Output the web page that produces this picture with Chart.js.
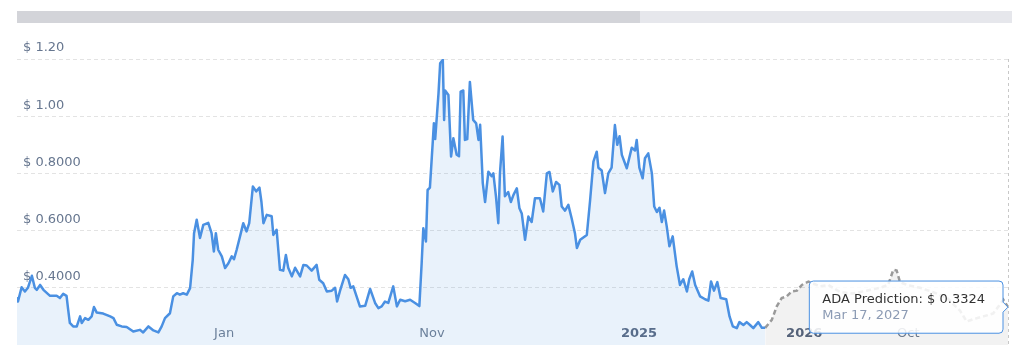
<!DOCTYPE html>
<html>
<head>
<meta charset="utf-8">
<script src="https://cdn.jsdelivr.net/npm/chart.js@4/dist/chart.umd.min.js"></script>
<style>
  html, body { margin: 0; padding: 0; background: #ffffff; }
  #wrap { width: 1024px; height: 353px; position: relative; }
</style>
</head>
<body>
<div id="wrap"><canvas id="c" width="1024" height="353"></canvas></div>
<script>
// ---- data (time index along an ordinal axis, price in USD) ----
const histT = [0,0.3,1.4,2.4,3.3,4.5,5.4,6.0,7.0,8.0,10.0,12.0,13.0,14.0,15.0,15.5,16.0,17.0,18.1,19.1,19.6,20.6,21.6,22.6,23.3,24.1,26.1,28.2,29.2,30.2,31.7,33.2,35.2,37.2,38.2,39.8,41.3,42.8,43.8,44.8,46.3,47.3,48.4,49.3,50.3,51.4,52.4,53.2,53.6,54.4,55.4,56.4,57.9,58.9,59.6,60.2,60.9,62.0,63.0,64.0,65.0,65.7,66.5,67.5,68.5,69.5,70.3,71.4,72.4,73.4,74.0,74.6,75.6,77.1,77.6,78.6,79.6,80.6,81.4,82.1,83.2,84.2,85.7,86.7,87.7,89.2,90.7,91.5,92.7,93.8,95.3,96.3,96.9,97.8,99.3,100.3,101.0,101.8,102.8,103.8,105.4,106.9,108.4,109.4,110.4,111.4,112.4,113.9,115.0,116.0,117.5,119.0,120.5,121.8,122.5,123.0,123.8,124.3,125.0,125.9,126.2,126.6,127.6,128.1,128.9,129.3,129.6,130.6,131.4,132.1,133.1,133.8,134.3,135.1,135.6,136.3,137.1,138.1,139.0,139.7,140.2,141.0,141.7,142.7,143.7,144.2,145.0,145.7,146.2,147.0,147.7,148.7,149.5,150.3,151.3,152.1,152.8,153.8,154.8,155.8,156.8,158.3,159.3,160.4,161.2,162.2,163.2,164.2,164.9,165.9,166.9,167.9,168.9,169.5,170.5,172.5,173.5,174.5,175.5,176.0,177.0,178.0,179.0,180.0,181.0,181.7,182.4,183.1,184.6,186.1,187.1,187.6,188.4,189.4,190.1,191.1,192.2,192.9,193.7,194.5,195.2,195.9,196.7,197.5,198.5,199.7,200.7,201.7,202.8,203.5,204.4,205.3,206.8,208.3,209.3,210.1,211.0,212.0,213.0,214.7,215.7,216.7,217.9,218.7,219.9,220.9,221.9,222.9,224.4,225.5,226.5];
const histV = [0.364,0.352,0.402,0.387,0.400,0.442,0.400,0.393,0.410,0.393,0.372,0.372,0.364,0.379,0.372,0.323,0.277,0.265,0.265,0.300,0.277,0.294,0.288,0.300,0.333,0.314,0.310,0.300,0.294,0.271,0.265,0.263,0.247,0.253,0.244,0.265,0.251,0.244,0.265,0.294,0.311,0.370,0.381,0.376,0.381,0.376,0.399,0.498,0.591,0.638,0.574,0.620,0.627,0.591,0.527,0.591,0.533,0.510,0.469,0.486,0.510,0.500,0.533,0.579,0.626,0.597,0.626,0.754,0.737,0.750,0.700,0.626,0.655,0.650,0.585,0.603,0.463,0.460,0.515,0.470,0.440,0.470,0.440,0.480,0.478,0.460,0.480,0.428,0.416,0.387,0.390,0.400,0.352,0.390,0.445,0.430,0.400,0.405,0.370,0.335,0.337,0.396,0.347,0.329,0.335,0.352,0.347,0.405,0.335,0.358,0.353,0.358,0.347,0.336,0.486,0.608,0.562,0.742,0.750,0.917,0.975,0.920,1.080,1.185,1.197,0.987,1.090,1.074,0.859,0.923,0.865,0.860,1.086,1.090,0.917,0.920,1.120,0.987,0.975,0.917,0.970,0.766,0.700,0.806,0.790,0.800,0.719,0.626,0.800,0.929,0.720,0.735,0.700,0.725,0.748,0.678,0.660,0.568,0.649,0.630,0.713,0.713,0.667,0.800,0.805,0.737,0.770,0.760,0.684,0.670,0.690,0.643,0.591,0.539,0.568,0.585,0.707,0.841,0.876,0.820,0.810,0.731,0.800,0.820,0.969,0.900,0.930,0.865,0.818,0.890,0.880,0.917,0.820,0.783,0.853,0.870,0.800,0.684,0.665,0.680,0.630,0.670,0.614,0.545,0.580,0.475,0.410,0.430,0.387,0.430,0.457,0.410,0.370,0.360,0.355,0.422,0.390,0.420,0.364,0.360,0.300,0.265,0.259,0.280,0.270,0.280,0.270,0.259,0.280,0.260,0.260];
const predT = [226.5,228.5,230.0,231.5,233.0,234.5,236.1,237.6,239.6,243.1,245.6,249.2,253.1,257.2,261.3,263.7,265.3,266.3,267.3,269.4,273.4,277.3,281.5,285.5,287.5,289.4,292.5,295.5,298.6,300.0];
const predV = [0.260,0.288,0.335,0.364,0.370,0.387,0.390,0.410,0.422,0.405,0.410,0.385,0.380,0.390,0.400,0.410,0.463,0.460,0.420,0.410,0.400,0.385,0.365,0.320,0.282,0.290,0.300,0.310,0.358,0.3324];
const xTickPos = [62.7, 125.6, 188.3, 238.3, 269.8];
const xTickLabels = ['Jan', 'Nov', '2025', '2026', 'Oct'];
const xTickIsYear = [false, false, true, true, false];
const yTickValues = [0.2, 0.4, 0.6, 0.8, 1.0, 1.2];
const yTickLabels = ['', '$ 0.4000', '$ 0.6000', '$ 0.8000', '$ 1.00', '$ 1.20'];
const seriesName = 'ADA Prediction';
const tooltipDate = 'Mar 17, 2027';

// ---- build ----
const FONT = '"DejaVu Sans", Verdana, sans-serif';
Chart.defaults.font.family = FONT;
Chart.defaults.font.size = 13;

const histData = histT.map((t, i) => ({ x: t, y: histV[i] }));
const predData = predT.map((t, i) => ({ x: t, y: predV[i] }));

const navigatorPlugin = {
  id: 'navigatorBar',
  beforeDraw(chart) {
    const ctx = chart.ctx;
    const left = chart.chartArea.left;
    ctx.save();
    ctx.fillStyle = '#e6e7ec';
    ctx.fillRect(left, 11, 1012 - left, 12);
    ctx.fillStyle = '#d3d4d9';
    ctx.fillRect(left, 11, 640 - left, 12);
    ctx.restore();
  }
};

const crosshairPlugin = {
  id: 'crosshair',
  afterDatasetsDraw(chart) {
    const ctx = chart.ctx;
    const xs = chart.scales.x;
    const px = Math.round(xs.getPixelForValue(predT[predT.length - 1])) + 0.5;
    ctx.save();
    ctx.strokeStyle = '#c8c8c8';
    ctx.lineWidth = 1;
    ctx.setLineDash([3, 3]);
    ctx.beginPath();
    ctx.moveTo(px, chart.chartArea.top);
    ctx.lineTo(px, chart.chartArea.bottom);
    ctx.stroke();
    ctx.restore();
  }
};

function zeroPad(scale) {
  scale.paddingTop = 0;
  scale.paddingBottom = 0;
  scale.paddingLeft = 0;
  scale.paddingRight = 0;
}

const chart = new Chart(document.getElementById('c'), {
  type: 'line',
  data: {
    datasets: [
      {
        label: 'ADA',
        data: histData,
        borderColor: '#4a90e2',
        backgroundColor: 'rgba(74,144,226,0.12)',
        borderWidth: 2.5,
        fill: 'start',
        pointRadius: 0,
        pointHoverRadius: 0,
        tension: 0,
        borderJoinStyle: 'round'
      },
      {
        label: seriesName,
        data: predData,
        borderColor: '#9a9a9a',
        backgroundColor: 'rgba(0,0,0,0.05)',
        borderWidth: 2.5,
        borderDash: [5, 3],
        fill: 'start',
        pointRadius: 0,
        pointHoverRadius: 0,
        tension: 0
      }
    ]
  },
  options: {
    responsive: false,
    animation: false,
    events: [],
    layout: { padding: { top: 59, left: 17, right: 16, bottom: 8 } },
    scales: {
      x: {
        type: 'linear',
        min: 0,
        max: 300,
        grid: { display: false, drawTicks: false },
        border: { display: false },
        afterFit(scale) { scale.height = 0; zeroPad(scale); },
        afterBuildTicks(scale) { scale.ticks = xTickPos.map(v => ({ value: v })); },
        ticks: {
          autoSkip: false,
          maxRotation: 0,
          mirror: true,
          padding: 4,
          font: (ctx) => ({ family: FONT, size: 13, weight: xTickIsYear[ctx.index] ? 'bold' : 'normal' }),
          color: (ctx) => xTickIsYear[ctx.index] ? '#5a6880' : '#707e92',
          callback: (v, i) => xTickLabels[i]
        }
      },
      y: {
        type: 'linear',
        min: 0.2,
        max: 1.2,
        border: { display: false, dash: [4, 3] },
        afterFit(scale) { scale.width = 0; zeroPad(scale); },
        afterBuildTicks(scale) { scale.ticks = yTickValues.map(v => ({ value: v })); },
        grid: {
          drawTicks: false,
          color: (ctx) => ctx.index === 0 ? 'rgba(0,0,0,0)' : '#e3e3e3',
          lineWidth: 1
        },
        ticks: {
          mirror: true,
          padding: 6,
          labelOffset: -11,
          color: '#66768f',
          font: { family: FONT, size: 13 },
          callback: (v, i) => yTickLabels[i]
        }
      }
    },
    plugins: {
      legend: { display: false },
      tooltip: {
        enabled: true,
        xAlign: 'right',
        yAlign: 'center',
        backgroundColor: 'rgba(255,255,255,0.86)',
        borderColor: '#4a90e2',
        borderWidth: 1,
        cornerRadius: 4,
        caretSize: 5,
        caretPadding: 0,
        displayColors: false,
        padding: { top: 11, bottom: 10, left: 13, right: 18 },
        titleFont: { family: FONT, size: 13, weight: 'normal' },
        titleColor: '#333333',
        titleMarginBottom: 0,
        bodyFont: { family: FONT, size: 13 },
        bodyColor: '#8c9bb4',
        callbacks: {
          title: (items) => seriesName + ': $ ' + items[0].parsed.y.toFixed(4),
          label: () => tooltipDate
        }
      }
    }
  },
  plugins: [navigatorPlugin, crosshairPlugin]
});

const lastIdx = predT.length - 1;
const el = chart.getDatasetMeta(1).data[lastIdx];
chart.tooltip.setActiveElements([{ datasetIndex: 1, index: lastIdx }], { x: el.x, y: el.y });
chart.update();
</script>
</body>
</html>
